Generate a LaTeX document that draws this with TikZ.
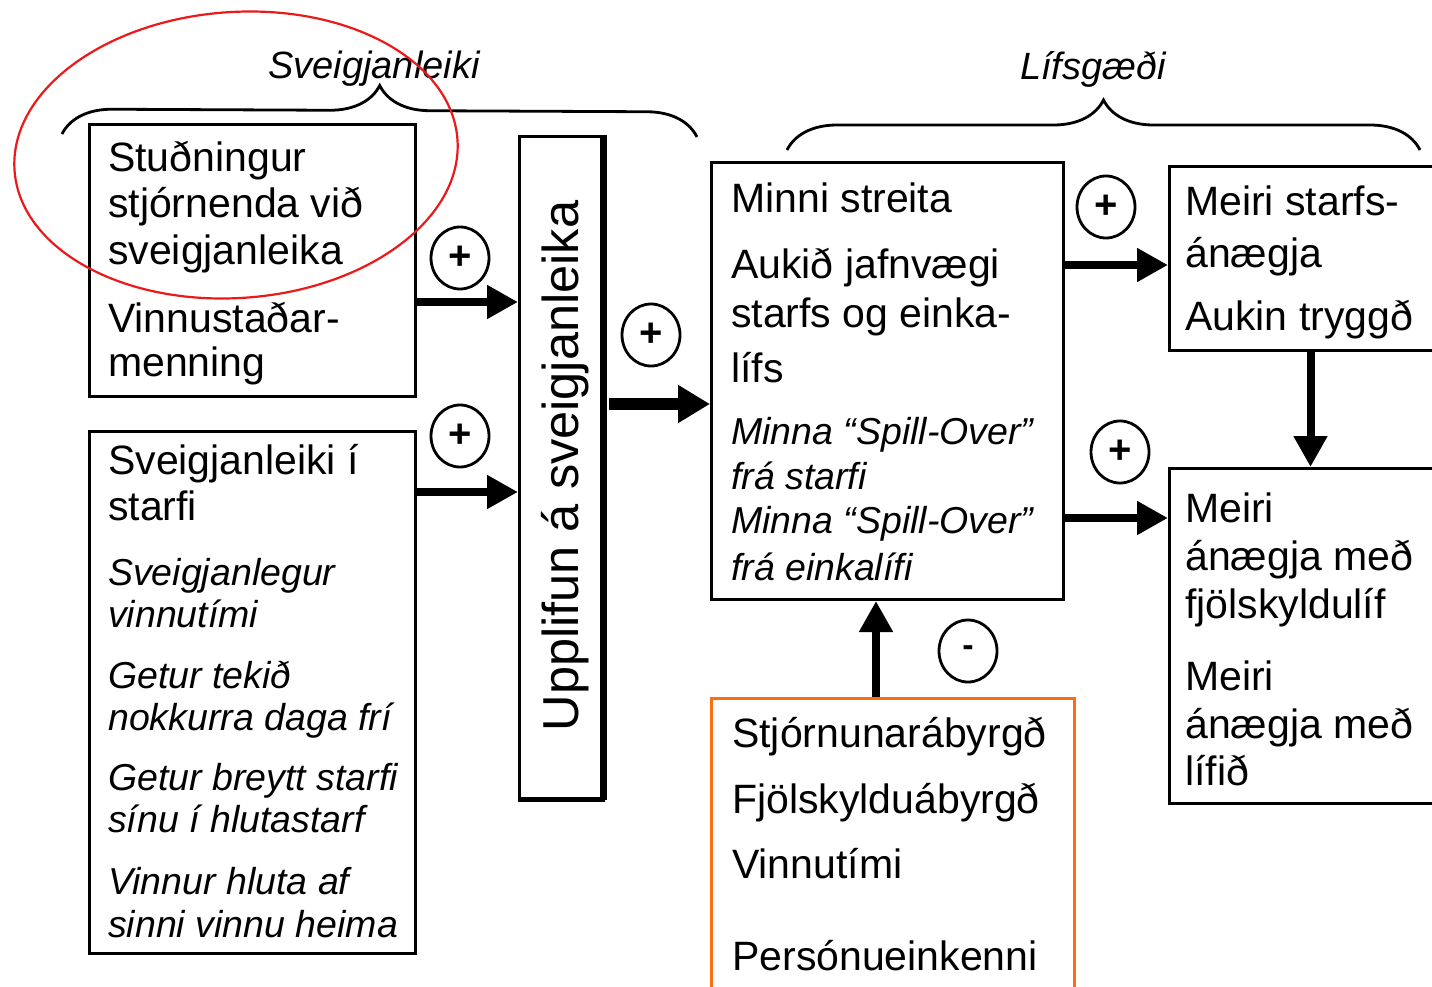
\documentclass[tikz,border=0pt]{standalone}
\usepackage{fontspec}
\setmainfont{Liberation Sans}
\usetikzlibrary{arrows.meta,shapes.geometric,decorations.pathreplacing,calc}
\definecolor{frameorange}{RGB}{250,110,20}
\definecolor{ellred}{RGB}{235,25,25}
\begin{document}
\begin{tikzpicture}[x=1pt,y=-1pt,
  box/.style={draw,line width=3pt,inner sep=0pt,anchor=north west},
  up/.style={anchor=base west,inner sep=0pt,font=\fontsize{41}{46}\selectfont},
  it/.style={anchor=base west,inner sep=0pt,font=\fontsize{37.5}{42}\selectfont\itshape},
  sign/.style={draw,ellipse,line width=2.8pt,minimum width=58pt,minimum height=62pt,inner sep=0pt,font=\fontsize{40}{40}\selectfont\bfseries},
  arr/.style={line width=8pt,-{Triangle[length=31pt,width=32pt]}},
  bigarr/.style={line width=12pt,-{Triangle[length=32pt,width=36pt]}},
  brc/.style={decorate,decoration={brace,amplitude=50pt},line width=2.8pt},
  head/.style={inner sep=0pt,font=\fontsize{38}{38}\selectfont\itshape}
]
\useasboundingbox (0,0) rectangle (1432,987);
\clip (0,0) rectangle (1432,987);
\fill[white] (0,0) rectangle (1432,987);

% braces and headings
\draw[brc] (62,134) -- (697,137);
\draw[brc] (787,150) -- (1420,150);
\node[head] (h1) at (374,69) {Sveigjanleiki};
\node[head] (h2) at (1093,69) {Lífsgæði};

% boxes
\node[box,minimum width=326pt,minimum height=272pt] (A) at (88,123) {};
\node[box,minimum width=326pt,minimum height=522pt] (B) at (88,430) {};
\node[box,minimum width=84pt,minimum height=662pt] (U) at (518,135) {};
\draw[line width=7pt] ([xshift=-2pt]U.north east) -- ([xshift=-2pt]U.south east);
\draw[line width=4pt] (U.south west) -- (U.south east);
\node[box,minimum width=352pt,minimum height=437pt] (C) at (710,161) {};
\node[box,minimum width=282pt,minimum height=184pt] (D) at (1168,165) {};
\node[box,minimum width=282pt,minimum height=335pt] (E) at (1168,467) {};
\node[box,draw=frameorange,minimum width=363pt,minimum height=330pt] (F) at (710,697) {};

% texts
\foreach \t/\y [count=\i] in {Stuðningur/172, stjórnenda við/218, sveigjanleika/264, Vinnustaðar-/332, menning/376}
  \node[up] (a\i) at (108,\y) {\t};
\foreach \t/\y [count=\i] in {Sveigjanleiki í/474, starfi/520}
  \node[up] (b\i) at (108,\y) {\t};
\foreach \t/\y [count=\i] in {Sveigjanlegur/585, vinnutími/627, Getur tekið/688, nokkurra daga frí/730, Getur breytt starfi/790, sínu í hlutastarf/832, Vinnur hluta af/894, sinni vinnu heima/937}
  \node[it] (bi\i) at (108,\y) {\t};
\node[rotate=90,anchor=base,inner sep=0pt,font=\fontsize{50.5}{50}\selectfont] (ut) at (578,466) {Upplifun á sveigjanleika};
\foreach \t/\y [count=\i] in {Minni streita/213, Aukið jafnvægi/278, starfs og einka-/327, lífs/382}
  \node[up] (c\i) at (731,\y) {\t};
\foreach \t/\y [count=\i] in {Minna “Spill-Over”/444, frá starfi/489, Minna “Spill-Over”/533, frá einkalífi/580}
  \node[it] (ci\i) at (731,\y) {\t};
\foreach \t/\y [count=\i] in {Meiri starfs-/215, ánægja/267, Aukin tryggð/330}
  \node[up] (d\i) at (1185,\y) {\t};
\foreach \t/\y [count=\i] in {Meiri/522, ánægja með/570, fjölskyldulíf/618, Meiri/690, ánægja með/738, lífið/785}
  \node[up] (e\i) at (1185,\y) {\t};
\foreach \t/\y [count=\i] in {Stjórnunarábyrgð/747, Fjölskylduábyrgð/813, Vinnutími/878, Persónueinkenni/970}
  \node[up] (f\i) at (732,\y) {\t};

% connectors
\coordinate (r1) at (0,302);
\coordinate (r2) at (0,492);
\coordinate (r3) at (0,404);
\coordinate (r4) at (0,265);
\coordinate (r5) at (0,518);
\coordinate (c1) at (876,0);
\draw[arr] (A.east |- r1) -- (U.west |- r1);
\draw[arr] (B.east |- r2) -- (U.west |- r2);
\draw[bigarr] ([xshift=4pt]U.east |- r3) -- (C.west |- r3);
\draw[arr] (C.east |- r4) -- (D.west |- r4);
\draw[arr] (C.east |- r5) -- (E.west |- r5);
\draw[arr] (D.south) -- (E.north);
\draw[arr] (F.north -| c1) -- (C.south -| c1);

% signs
\node[sign] (s1) at (460,258) {+};
\node[sign] (s2) at (460,436) {+};
\node[sign] (s3) at (651,335) {+};
\node[sign] (s4) at (1106,207) {+};
\node[sign] (s5) at (1120,452) {+};
\node[sign,font=\fontsize{34}{34}\selectfont\bfseries] (s6) at (968,651) {-};

% red ellipse
\draw[ellred,line width=2.2pt,rotate around={4:(236,155)}] (236,155) ellipse [x radius=222, y radius=143];
\end{tikzpicture}
\end{document}
